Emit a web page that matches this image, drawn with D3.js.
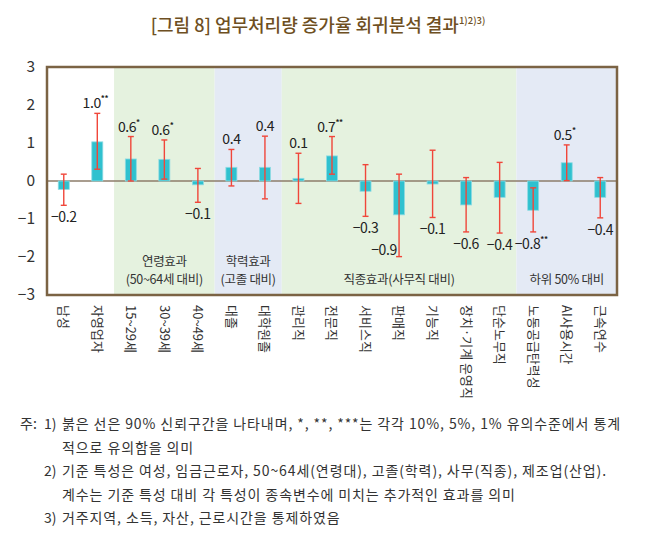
<!DOCTYPE html>
<html>
<head>
<meta charset="utf-8">
<script src="https://cdn.jsdelivr.net/npm/d3@7"></script>
<style>
  body { margin: 0; background: #fff; }
  svg { display: block; font-family: "Noto Sans CJK KR", "Noto Sans", sans-serif; }
</style>
</head>
<body>
<svg id="chart" width="647" height="540"></svg>
<script>
// chart data
var categories = ['남성', '자영업자', '15~29세', '30~39세', '40~49세', '대졸', '대학원졸',
    '관리직', '전문직', '서비스직', '판매직', '기능직', '장치·기계 운영직', '단순노무직',
    '노동공급탄력성', 'AI사용시간', '근속연수'];
var estimates = [-0.22, 1.03, 0.58, 0.57, -0.10, 0.36, 0.36, 0.07, 0.66, -0.27, -0.89,
    -0.08, -0.63, -0.43, -0.77, 0.48, -0.43];
var ciLow = [-0.64, 0.31, 0.00, 0.05, -0.56, -0.13, -0.47, -0.59, 0.18, -0.93, -1.99,
    -0.96, -1.34, -1.37, -1.34, 0.01, -0.97];
var ciHigh = [0.18, 1.78, 1.17, 1.08, 0.33, 0.83, 1.18, 0.73, 1.17, 0.43, 0.18,
    0.81, 0.09, 0.49, -0.18, 0.95, 0.09];
var stars = ['', '**', '*', '*', '', '', '', '', '**', '', '', '', '', '', '**', '*', ''];
var yTicks = [-3, -2, -1, 0, 1, 2, 3];

// shaded groups: first / last category index, label lines
var groupNames = [['연령효과', '(50~64세 대비)'], ['학력효과', '(고졸 대비)'],
    ['직종효과(사무직 대비)'], ['하위 50% 대비']];
var groupStart = [2, 5, 7, 14];
var groupEnd = [4, 6, 13, 16];
var groupColor = ['#e5f2df', '#e4eaf5', '#e5f2df', '#e4eaf5'];

var notes = [
    ['주:', '1)', '붉은 선은 90% 신뢰구간을 나타내며, *, **, ***는 각각 10%, 5%, 1% 유의수준에서 통계'],
    ['', '', '적으로 유의함을 의미'],
    ['', '2)', '기준 특성은 여성, 임금근로자, 50~64세(연령대), 고졸(학력), 사무(직종), 제조업(산업).'],
    ['', '', '계수는 기준 특성 대비 각 특성이 종속변수에 미치는 추가적인 효과를 의미'],
    ['', '3)', '거주지역, 소득, 자산, 근로시간을 통제하였음']
];

var svg = d3.select('#chart');

var mLeft = 47, mRight = 617, mTop = 67, mBottom = 295;

var x = d3.scaleBand().domain(categories).range([mLeft, mRight]);
var y = d3.scaleLinear().domain([-3, 3]).range([mBottom, mTop]);
var fmt = d3.format('.1f');

// title
var title = svg.append('text')
    .attr('x', 318).attr('y', 32)
    .attr('text-anchor', 'middle')
    .attr('fill', '#6e4f22')
    .style('font-size', '18px')
    .style('font-weight', 500);
title.append('tspan').text('[그림 8] 업무처리량 증가율 회귀분석 결과');
title.append('tspan').attr('dy', -8).style('font-size', '9.5px').text('1)2)3)');

// group backgrounds
svg.selectAll('rect.grp')
    .data(groupStart)
    .enter()
    .append('rect')
    .attr('class', 'grp')
    .attr('x', function (d) { return x(categories[d]); })
    .attr('y', mTop)
    .attr('width', function (d, i) { return x(categories[groupEnd[i]]) + x.bandwidth() - x(categories[d]); })
    .attr('height', mBottom - mTop)
    .attr('fill', function (d, i) { return groupColor[i]; });

// group labels
groupNames.forEach(function (lines, i) {
    var cx = (x(categories[groupStart[i]]) + x(categories[groupEnd[i]]) + x.bandwidth()) / 2;
    var t = svg.append('text')
        .attr('text-anchor', 'middle')
        .attr('fill', '#333')
        .style('font-size', '12.5px')
        .style('letter-spacing', '-0.3px');
    lines.forEach(function (line, j) {
        t.append('tspan')
            .attr('x', cx)
            .attr('y', 284 - (lines.length - 1 - j) * 18)
            .text(line);
    });
});

// zero line
svg.append('line')
    .attr('x1', mLeft).attr('x2', mRight)
    .attr('y1', y(0)).attr('y2', y(0))
    .attr('stroke', '#8c7d6a')
    .attr('stroke-width', 1.5);

// bars
var barW = 11;
svg.selectAll('rect.bar')
    .data(estimates)
    .enter()
    .append('rect')
    .attr('class', 'bar')
    .attr('x', function (d, i) { return x(categories[i]) + x.bandwidth() / 2 - barW / 2; })
    .attr('y', function (d) { return d > 0 ? y(d) : y(0); })
    .attr('width', barW)
    .attr('height', function (d) { return Math.abs(y(d) - y(0)); })
    .attr('fill', '#2fc1cf')
    .attr('stroke', '#8edbe3')
    .attr('stroke-width', 0.8);

// error bars
var eb = svg.selectAll('g.err')
    .data(categories)
    .enter()
    .append('g')
    .attr('class', 'err')
    .attr('stroke', '#f0463a')
    .attr('stroke-width', 1.4);
eb.append('line')
    .attr('x1', function (d) { return x(d) + x.bandwidth() / 2; })
    .attr('x2', function (d) { return x(d) + x.bandwidth() / 2; })
    .attr('y1', function (d, i) { return y(ciHigh[i]); })
    .attr('y2', function (d, i) { return y(ciLow[i]); });
[ciHigh, ciLow].forEach(function (arr) {
    eb.append('line')
        .attr('x1', function (d) { return x(d) + x.bandwidth() / 2 - 3; })
        .attr('x2', function (d) { return x(d) + x.bandwidth() / 2 + 3; })
        .attr('y1', function (d, i) { return y(arr[i]); })
        .attr('y2', function (d, i) { return y(arr[i]); });
});

// value labels
var vl = svg.selectAll('text.val')
    .data(estimates)
    .enter()
    .append('text')
    .attr('class', 'val')
    .attr('text-anchor', 'middle')
    .attr('fill', '#222')
    .style('font-size', '14px')
    .style('letter-spacing', '-0.4px')
    .attr('x', function (d, i) {
        var cx = x(categories[i]) + x.bandwidth() / 2;
        // very long interval: label sits to the left of the line
        if (ciLow[i] < -1.8) return cx - 15;
        return cx + (stars[i] ? -2 : 0);
    })
    .attr('y', function (d, i) {
        if (ciLow[i] < -1.8) return y(d) + 40;
        return d > 0 ? y(ciHigh[i]) - 5 : y(ciLow[i]) + 17;
    });
vl.append('tspan').text(function (d) { return fmt(d); });
vl.append('tspan')
    .attr('dy', -7)
    .style('font-size', '8px')
    .style('font-weight', 'bold')
    .text(function (d, i) { return stars[i]; });

// y axis labels
svg.selectAll('text.ytick')
    .data(yTicks)
    .enter()
    .append('text')
    .attr('class', 'ytick')
    .attr('x', 35)
    .attr('y', function (d) { return y(d); })
    .attr('dy', '0.35em')
    .attr('text-anchor', 'end')
    .attr('fill', '#333')
    .style('font-size', '15.5px')
    .text(function (d) { return d3.format('d')(d); });

// frame
svg.append('rect')
    .attr('x', mLeft).attr('y', mTop)
    .attr('width', mRight - mLeft).attr('height', mBottom - mTop)
    .attr('fill', 'none')
    .attr('stroke', '#7b6344')
    .attr('stroke-width', 2.5);

// x labels, rotated
svg.selectAll('text.xlab')
    .data(categories)
    .enter()
    .append('text')
    .attr('class', 'xlab')
    .attr('transform', function (d) {
        return 'translate(' + (x(d) + x.bandwidth() / 2) + ',305) rotate(90)';
    })
    .attr('dy', '0.35em')
    .attr('fill', '#333')
    .style('font-size', '13px')
    .text(function (d) { return d; });

// notes
notes.forEach(function (n, i) {
    var ly = 429 + i * 23.5;
    svg.append('text').attr('x', 20).attr('y', ly).attr('fill', '#333').style('font-size', '14px').text(n[0]);
    svg.append('text').attr('x', 44).attr('y', ly).attr('fill', '#333').style('font-size', '14px').text(n[1]);
    svg.append('text').attr('x', 62).attr('y', ly).attr('fill', '#333').style('font-size', '14px')
        .style('letter-spacing', '0.9px')
        .text(n[2]);
});
</script>
</body>
</html>
